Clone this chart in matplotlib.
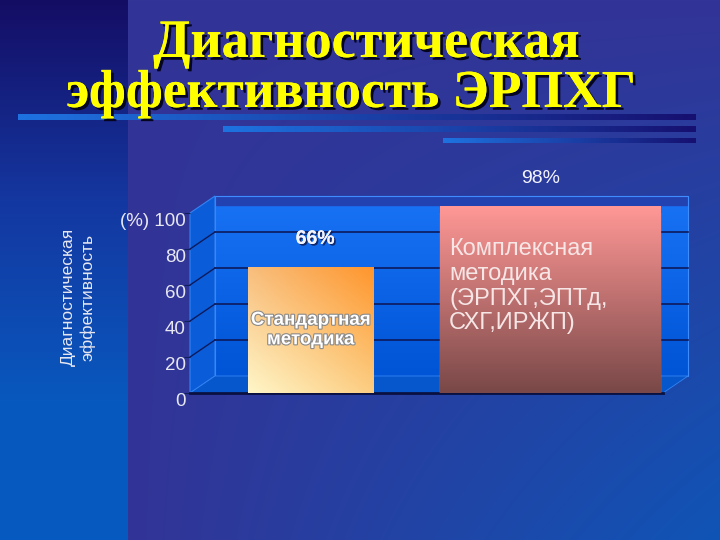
import numpy as np
import matplotlib
matplotlib.use("Agg")
import matplotlib.pyplot as plt
import matplotlib.patheffects as pe
from matplotlib.patches import Polygon, Rectangle
from matplotlib.transforms import ScaledTranslation

# данные диаграммы
categories = ["Стандартная\nметодика", "Комплексная\nметодика\n(ЭРПХГ,ЭПТд,\nСХГ,ИРЖП)"]
values = [66, 98]
value_labels = ["66%", "98%"]
y_ticks = [0, 20, 40, 60, 80, 100]
y_tick_labels = ["0", "20", "40", "60", "80", "(%) 100"]
title_lines = ["Диагностическая", "эффективность ЭРПХГ"]
y_title = "Диагностическая\nэффективность"

W, H = 720, 540
fig = plt.figure(figsize=(7.2, 5.4), dpi=100)

# фон слайда
yy, xx = np.mgrid[0:H, 0:W]
t = np.clip((xx - 128) / 592, 0, 1) * (yy / H)
c0 = np.array([50, 52, 150.0])
c1 = np.array([15, 85, 182.0])
bg = c0 + (c1 - c0) * t[..., None]
stops_y = [0, 200, 400, 540]
stops_c = np.array([[20, 13, 100], [20, 55, 160], [8, 88, 190], [5, 90, 192]], float)
left = np.stack([np.interp(np.arange(H), stops_y, stops_c[:, k]) for k in range(3)], axis=1)
bg[:, :128] = left[:, None, :]
bg = bg / 255

axbg = fig.add_axes([0, 0, 1, 1])
axbg.imshow(bg, extent=(0, W, H, 0), aspect="auto")
# полоски под заголовком
s0 = np.array([30, 115, 225]) / 255
s1 = np.array([22, 16, 112]) / 255
g = np.linspace(0, 1, 256)[None, :, None]
for x0, y0, y1 in [(18, 114, 120), (223, 126, 132), (443, 138, 143)]:
    axbg.imshow(s0 + (s1 - s0) * g, extent=(x0, 696, y1, y0), aspect="auto")
axbg.set_xlim(0, W)
axbg.set_ylim(H, 0)
axbg.axis("off")

# заголовок
shadow = [pe.withSimplePatchShadow(offset=(2, -2), shadow_rgbFace="#050520", alpha=1.0), pe.Normal()]
fig.text(366 / W, 1 - 57 / H, title_lines[0], ha="center", va="baseline",
         family="Liberation Serif", weight="bold", size=39, color="#ffff00", path_effects=shadow)
fig.text(351 / W, 1 - 107 / H, title_lines[1], ha="center", va="baseline",
         family="Liberation Serif", weight="bold", size=38.5, color="#ffff00", path_effects=shadow)

# основная ось (передняя плоскость)
ax = fig.add_axes([190 / W, (H - 393) / H, 473 / W, 180 / H])
ax.patch.set_visible(False)
xmin, xmax = -0.503, 1.472
ax.set_xlim(xmin, xmax)
ax.set_ylim(0, 100)
dx = 25 / 239.5
dy = 17 / 1.8

# задняя стенка
wall = np.linspace(0, 1, 64)[:, None, None] * np.ones((1, 4, 1))
wt = np.array([25, 115, 245]) / 255
wb = np.array([0, 84, 214]) / 255
im = ax.imshow(wt + (wb - wt) * wall, extent=(xmin + dx, xmax + dx, dy, 100 + dy), aspect="auto")
im.set_clip_on(False)
ax.add_patch(Rectangle((xmin + dx, 100 + dy - 5), xmax - xmin, 5, color="#2342b2", clip_on=False))
ax.add_patch(Rectangle((xmin + dx, dy), xmax - xmin, 100, fill=False, ec="#3f8cff", lw=0.8, clip_on=False))
# боковая стенка и пол
ax.add_patch(Polygon([(xmin, 0), (xmin + dx, dy), (xmin + dx, 100 + dy), (xmin, 100)],
                     closed=True, fc="#0b5cd8", ec="#3484f4", lw=0.8, clip_on=False))
ax.add_patch(Polygon([(xmin, 0), (xmax, 0), (xmax + dx, dy), (xmin + dx, dy)],
                     closed=True, fc="#0657cc", ec="#3484f4", lw=0.6, clip_on=False))
for v in y_ticks[1:-1]:
    ax.plot([xmin + dx, xmax + dx], [v + dy, v + dy], color="#0d1a5c", lw=1.2, clip_on=False)
    ax.plot([xmin, xmin + dx], [v, v + dy], color="#0d1a5c", lw=1.0, clip_on=False)
ax.set_xlim(xmin, xmax)
ax.set_ylim(0, 100)

ax.set_xticks([])
ax.set_yticks(y_ticks)
ax.set_yticklabels(y_tick_labels, family="Liberation Sans", size=13.5, color="#e8e8f2")
ax.tick_params(axis="y", direction="out", length=4, pad=0.5, color="#10205a")
shift = ScaledTranslation(0.02, -0.07, fig.dpi_scale_trans)
for lab in ax.get_yticklabels():
    lab.set_transform(lab.get_transform() + shift)
for s in ["left", "top", "right"]:
    ax.spines[s].set_visible(False)
ax.spines["bottom"].set_color("#0a1040")
ax.spines["bottom"].set_linewidth(2)

fig.text(78 / W, 1 - 297 / H, y_title, rotation=90, ha="center", va="center",
         family="Liberation Sans", size=12.5, color="#e8e8f2", linespacing=1.3)

# столбцы
axb = ax.twinx()
axb.patch.set_visible(False)
axb.axis("off")
x = np.arange(len(values))
widths = [0.522, 0.919]
bars = axb.bar(x, values, width=widths, color="none", lw=0)

# градиенты столбцов
u = np.linspace(0, 1, 64)
U, V = np.meshgrid(u, u)  # U слева направо, V сверху вниз
tl, tr = np.array([248, 190, 125]), np.array([255, 150, 45])
bl, br = np.array([255, 246, 200]), np.array([252, 205, 130])
g1 = ((1 - U)[..., None] * ((1 - V)[..., None] * tl + V[..., None] * bl)
      + U[..., None] * ((1 - V)[..., None] * tr + V[..., None] * br)) / 255
top2, bot2 = np.array([255, 152, 150]), np.array([122, 72, 72])
g2 = ((1 - V)[..., None] * top2 + V[..., None] * bot2) / 255
for rect, grad in zip(bars, [g1, g2]):
    x0, y0 = rect.get_x(), rect.get_y()
    w, h = rect.get_width(), rect.get_height()
    bim = axb.imshow(grad, extent=(x0, x0 + w, y0, y0 + h), aspect="auto", zorder=2)
    bim.set_clip_path(rect)
bars[1].set_edgecolor("#d8786a")
bars[1].set_linewidth(1)
axb.set_xlim(xmin, xmax)
axb.set_ylim(0, 180 / 1.909)

# подписи значений
axb.text(x[0] + 0.02, values[0] + 14.5, value_labels[0], ha="center", va="center",
         family="Liberation Sans", weight="bold", size=14, color="#f4f4ff",
         path_effects=[pe.withSimplePatchShadow(offset=(1.2, -1.2), shadow_rgbFace="#101848", alpha=0.8), pe.Normal()],
         zorder=5)
axb.text(x[1] - 0.04, values[1] + 14.5, value_labels[1], ha="center", va="center",
         family="Liberation Sans", size=14, color="#f4f4ff", zorder=5)

# подписи категорий внутри столбцов
axb.text(x[0], values[0] * 0.5, categories[0], ha="center", va="center",
         family="Liberation Sans", weight="bold", size=13.5, color="#ffffff", linespacing=1.2,
         path_effects=[pe.Stroke(linewidth=1.6, foreground="#8a8a8a"), pe.Normal()], zorder=5)
axb.text(x[1] - widths[1] / 2 + 0.038, values[1] * 0.57, categories[1], ha="left", va="center",
         family="Liberation Sans", size=17, color="#f6e6e6", linespacing=1.16, zorder=5)

fig.savefig("out.png", dpi=100)
